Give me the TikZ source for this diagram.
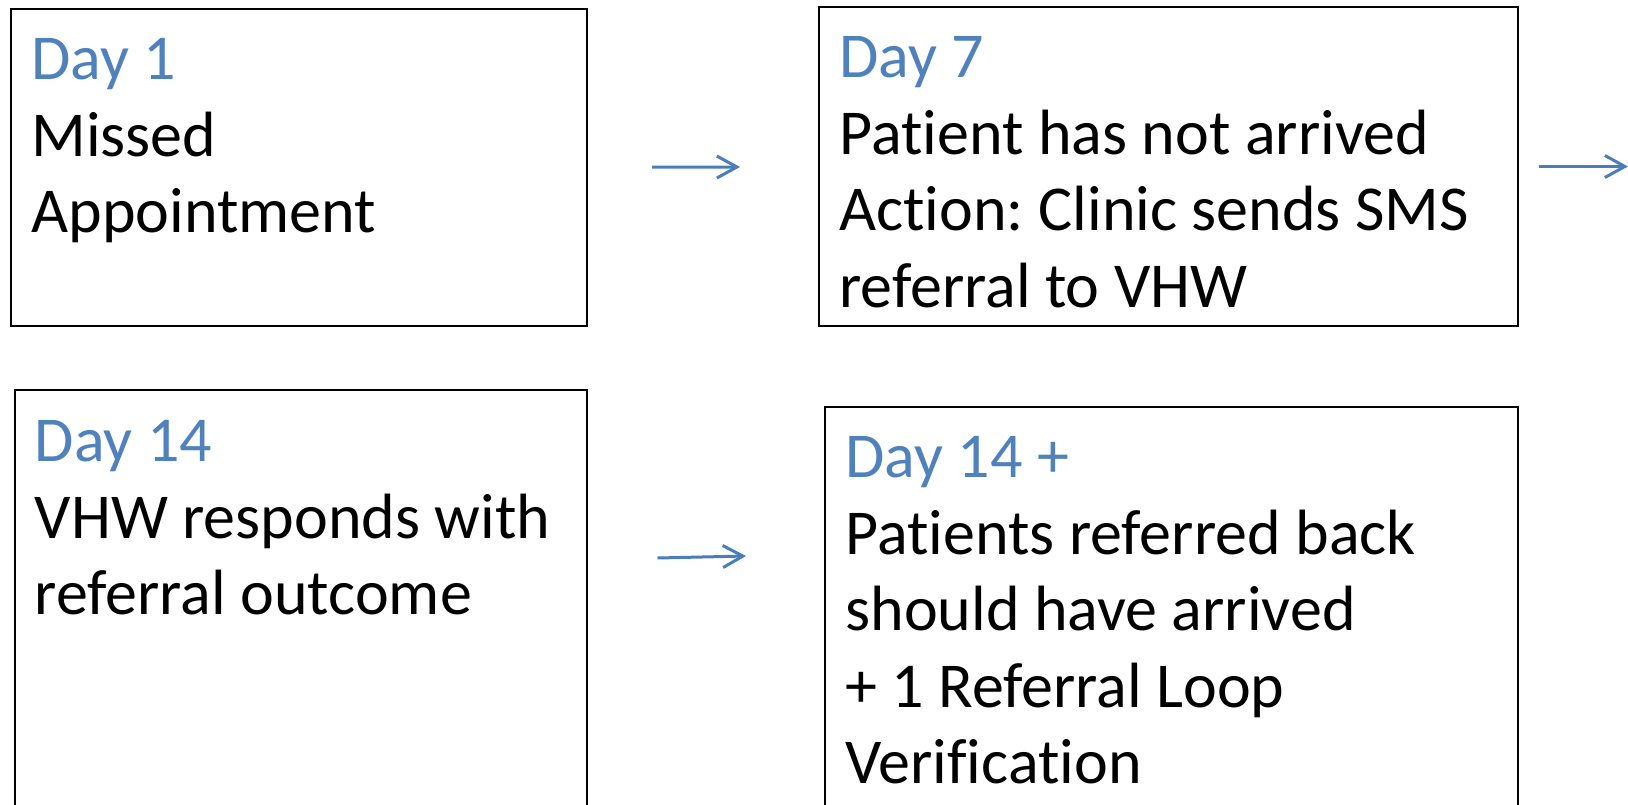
\documentclass[tikz,border=0pt]{standalone}
\usepackage{fontspec}
\setmainfont{Carlito}[Ligatures={NoCommon}]
\usepackage{xcolor}
\usepackage{tikz}
\usetikzlibrary{arrows.meta,positioning}
\definecolor{dayc}{HTML}{4F81BD}
\definecolor{arc}{HTML}{4A7EBB}
\tikzset{
  ar/.style={-{Straight Barb[length=10pt,width=11pt]},line width=1.5pt,arc},
  stagebox/.style={draw=black,line width=1pt,inner sep=0pt,anchor=north west},
  stagetxt/.style={anchor=north west,inner sep=0pt,align=left,font=\fontsize{32}{38.3}\selectfont\frenchspacing}
}
\newcommand{\dayhd}[1]{\textcolor{dayc}{#1}}
\begin{document}
\begin{tikzpicture}[x=0.5pt,y=-0.5pt]
\useasboundingbox (0,0) rectangle (1628,804);
\clip (0,0) rectangle (1628,804);
% the four stages
\node[stagebox,minimum width=288pt,minimum height=158.5pt] (d1) at (10,8) {};
\node[stagebox,minimum width=349.5pt,minimum height=159.5pt] (d7) at (818,6) {};
\node[stagebox,minimum width=286pt,minimum height=220pt] (d14) at (13.5,389) {};
\node[stagebox,minimum width=346.5pt,minimum height=210pt] (d14p) at (824,406) {};
\node[stagetxt] (t1) at ([shift={(10.5pt,-15pt)}]d1.north west) {\dayhd{Day 1}\\Missed\\Appointment};
\node[stagetxt] (t7) at ([shift={(10.5pt,-15pt)}]d7.north west) {\dayhd{Day 7}\\Patient has not arrived\\Action: Clinic sends SMS\\referral to VHW};
\node[stagetxt] (t14) at ([shift={(10.5pt,-15.5pt)}]d14.north west) {\dayhd{Day 14}\\VHW responds with\\referral outcome};
\node[stagetxt] (t14p) at ([shift={(10.5pt,-15pt)}]d14p.north west) {\dayhd{Day 14 +}\\Patients referred back\\should have arrived\\+ 1 Referral Loop\\Verification};
% arrows
\coordinate (nxt) at ([xshift=54.5pt]d7.east);
\draw[ar,shorten <=32pt,shorten >=39pt] (d1) -- (d7);
\draw[ar] ([xshift=10pt]d7.east) -- (nxt);
\draw[ar] ([xshift=35pt,yshift=-84.5pt]d14.north east) -- ([xshift=-39pt,yshift=-75pt]d14p.north west);
\end{tikzpicture}
\end{document}
